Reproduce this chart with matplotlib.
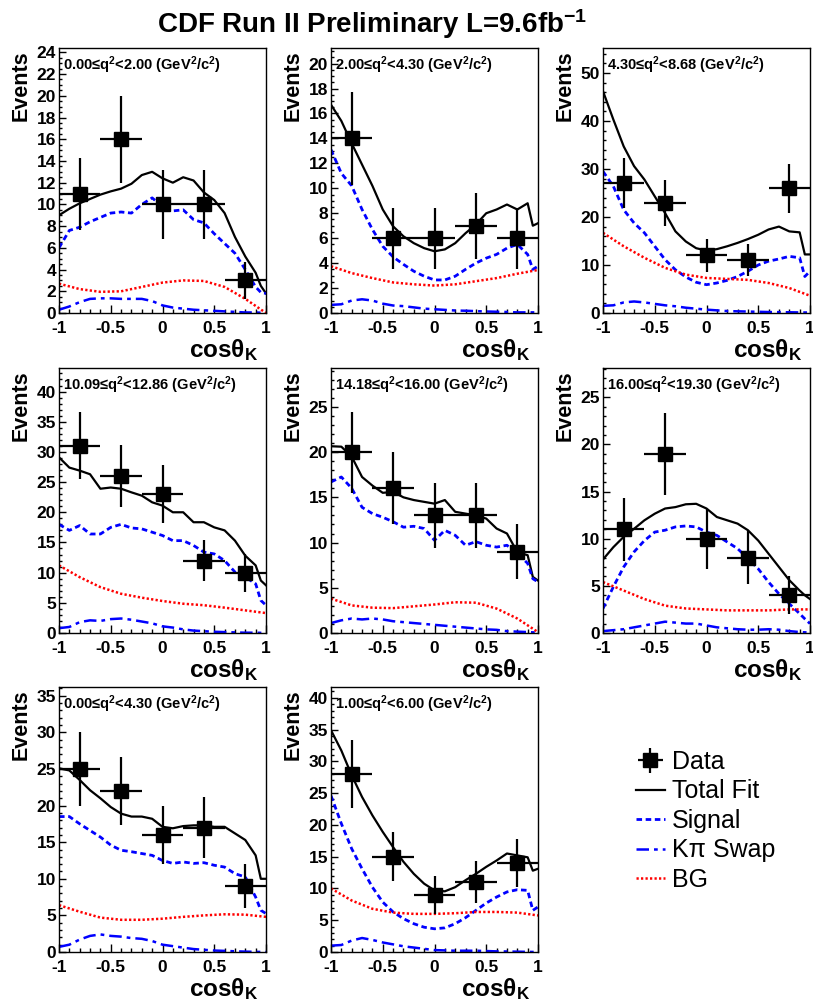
import numpy as np
import matplotlib
matplotlib.use("Agg")
import matplotlib.pyplot as plt
from matplotlib.ticker import MultipleLocator, AutoMinorLocator, FuncFormatter

plt.rcParams['font.family'] = ['Liberation Sans', 'DejaVu Sans']
plt.rcParams['mathtext.fontset'] = 'custom'
plt.rcParams['mathtext.rm'] = 'Liberation Sans'
plt.rcParams['mathtext.bf'] = 'Liberation Sans:bold'
plt.rcParams['mathtext.it'] = 'Liberation Sans:italic'
plt.rcParams['axes.unicode_minus'] = False

# data points (bin centres, half width 0.2)
x_data = [-0.8, -0.4, 0.0, 0.4, 0.8]
labels = ["0.00≤q$^{\\mathbf{2}}$<2.00 (GeV$^{\\mathbf{2}}$/c$^{\\mathbf{2}}$)",
          "2.00≤q$^{\\mathbf{2}}$<4.30 (GeV$^{\\mathbf{2}}$/c$^{\\mathbf{2}}$)",
          "4.30≤q$^{\\mathbf{2}}$<8.68 (GeV$^{\\mathbf{2}}$/c$^{\\mathbf{2}}$)",
          "10.09≤q$^{\\mathbf{2}}$<12.86 (GeV$^{\\mathbf{2}}$/c$^{\\mathbf{2}}$)",
          "14.18≤q$^{\\mathbf{2}}$<16.00 (GeV$^{\\mathbf{2}}$/c$^{\\mathbf{2}}$)",
          "16.00≤q$^{\\mathbf{2}}$<19.30 (GeV$^{\\mathbf{2}}$/c$^{\\mathbf{2}}$)",
          "0.00≤q$^{\\mathbf{2}}$<4.30 (GeV$^{\\mathbf{2}}$/c$^{\\mathbf{2}}$)",
          "1.00≤q$^{\\mathbf{2}}$<6.00 (GeV$^{\\mathbf{2}}$/c$^{\\mathbf{2}}$)"]

counts = [[11, 16, 10, 10, 3],
          [14, 6, 6, 7, 6],
          [27, 23, 12, 11, 26],
          [31, 26, 23, 12, 10],
          [20, 16, 13, 13, 9],
          [11, 19, 10, 8, 4],
          [25, 22, 16, 17, 9],
          [28, 15, 9, 11, 14]]

# fit curves
x_fit = [-1.0, -0.9, -0.8, -0.7, -0.6, -0.5, -0.4, -0.3, -0.2, -0.1, 0.0,
         0.1, 0.2, 0.3, 0.4, 0.5, 0.6, 0.7, 0.8, 0.9, 0.95, 1.0]
total = [[9.0, 9.6, 10.1, 10.5, 10.9, 11.2, 11.45, 11.9, 12.7, 13.0, 12.4, 12.0, 12.5, 12.2, 11.1, 10.4, 9.2, 7.0, 5.2, 3.7, 2.5, 1.8],
         [16.7, 15.4, 13.6, 11.9, 10.2, 8.3, 6.95, 6.15, 5.6, 5.2, 4.95, 5.1, 5.6, 6.4, 7.1, 8.0, 8.3, 8.7, 8.3, 8.8, 7.0, 7.2],
         [46.2, 40.3, 34.7, 30.6, 27.8, 24.3, 20.8, 17.0, 14.9, 13.5, 13.0, 13.3, 13.9, 14.6, 15.4, 16.3, 17.4, 18.0, 17.0, 16.8, 12.2, 12.2],
         [29.1, 27.4, 26.9, 26.3, 23.9, 24.1, 23.9, 23.3, 22.75, 21.65, 21.1, 20.0, 20.0, 18.35, 18.35, 17.5, 17.0, 15.3, 12.8, 11.2, 8.7, 7.9],
         [20.65, 20.6, 19.5, 17.25, 16.3, 15.5, 15.6, 15.0, 14.7, 14.5, 14.3, 14.7, 13.4, 13.2, 13.0, 12.65, 11.55, 11.0, 8.95, 8.6, 6.2, 5.8],
         [7.8, 9.1, 10.2, 11.05, 11.95, 12.65, 13.2, 13.35, 13.65, 13.7, 13.2, 12.3, 11.95, 11.6, 10.9, 9.8, 8.4, 7.0, 5.6, 4.5, 4.0, 3.6],
         [25.1, 24.8, 23.5, 22.1, 21.0, 19.8, 18.9, 18.5, 18.5, 18.2, 17.1, 16.9, 17.2, 17.3, 17.3, 17.1, 17.1, 16.2, 15.3, 13.2, 10.0, 10.0],
         [34.9, 31.7, 27.8, 24.4, 21.5, 18.9, 16.5, 14.2, 12.3, 10.75, 9.7, 9.55, 10.2, 11.3, 12.3, 13.4, 14.4, 15.5, 15.2, 14.9, 12.8, 13.1]]
signal = [[6.0, 7.6, 7.9, 8.4, 8.8, 9.2, 9.3, 9.2, 10.0, 10.6, 9.8, 9.4, 9.5, 8.6, 8.3, 7.3, 6.4, 5.5, 4.0, 2.4, 1.9, 1.8],
          [13.1, 11.2, 10.2, 8.3, 6.7, 5.35, 4.5, 3.9, 3.35, 2.95, 2.65, 2.65, 2.95, 3.5, 4.0, 4.4, 4.7, 5.2, 5.5, 4.7, 3.5, 3.75],
          [29.5, 26.4, 21.5, 18.75, 16.7, 13.9, 11.1, 9.0, 7.5, 6.4, 5.9, 6.25, 6.8, 7.6, 8.7, 10.0, 10.8, 11.25, 11.8, 11.5, 7.6, 8.7],
          [18.0, 17.0, 17.8, 16.4, 16.4, 17.5, 18.0, 17.4, 17.25, 16.7, 16.15, 15.3, 15.3, 14.5, 13.4, 13.1, 12.0, 10.1, 9.25, 8.15, 5.4, 4.6],
          [16.7, 17.25, 16.0, 13.9, 13.2, 12.8, 12.3, 11.7, 11.8, 11.55, 10.25, 11.35, 10.8, 9.7, 10.1, 9.7, 9.5, 9.7, 8.8, 7.7, 6.0, 5.65],
          [2.6, 4.9, 7.0, 8.6, 9.8, 10.7, 10.9, 11.25, 11.35, 11.25, 10.7, 10.35, 9.65, 8.95, 7.9, 6.8, 5.4, 4.15, 3.1, 2.05, 1.5, 1.0],
          [18.5, 18.5, 17.5, 16.6, 15.7, 14.6, 13.9, 13.7, 13.45, 13.2, 12.5, 12.1, 12.3, 12.1, 12.2, 11.85, 11.6, 10.7, 10.25, 7.5, 5.7, 5.25],
          [24.6, 20.2, 16.25, 13.1, 10.2, 7.85, 6.3, 5.25, 4.45, 3.9, 3.65, 3.8, 4.45, 5.4, 6.55, 7.7, 8.65, 9.45, 9.8, 9.7, 6.55, 7.1]]

x_swap = [-1.0, -0.9, -0.8, -0.7, -0.6, -0.5, -0.4, -0.3, -0.2, -0.1, 0.0,
          0.1, 0.2, 0.3, 0.4, 0.5, 0.6, 0.7, 0.8, 0.9, 1.0]
swap = [[0.3, 0.6, 1.0, 1.3, 1.35, 1.35, 1.3, 1.3, 1.3, 1.1, 0.7, 0.5, 0.4, 0.3, 0.25, 0.2, 0.15, 0.1, 0.05, 0.05, 0.0],
        [0.65, 0.7, 1.0, 1.1, 1.0, 0.75, 0.6, 0.55, 0.45, 0.35, 0.3, 0.25, 0.2, 0.18, 0.15, 0.12, 0.1, 0.08, 0.05, 0.05, 0.05],
        [1.5, 1.6, 2.2, 2.4, 2.2, 1.9, 1.6, 1.4, 1.1, 0.9, 0.7, 0.55, 0.4, 0.35, 0.3, 0.25, 0.2, 0.18, 0.15, 0.12, 0.1],
        [0.8, 1.0, 1.8, 2.1, 2.0, 2.3, 2.4, 2.2, 1.9, 1.6, 1.1, 0.9, 0.6, 0.4, 0.3, 0.2, 0.15, 0.1, 0.05, 0.05, 0.0],
        [1.1, 1.4, 1.6, 1.5, 1.6, 1.5, 1.3, 1.2, 1.1, 1.0, 0.9, 0.8, 0.7, 0.6, 0.5, 0.4, 0.35, 0.2, 0.15, 0.1, 0.05],
        [0.2, 0.3, 0.4, 0.6, 0.8, 1.0, 1.2, 1.1, 1.0, 1.0, 0.8, 0.6, 0.5, 0.4, 0.35, 0.35, 0.4, 0.35, 0.2, 0.1, 0.05],
        [0.7, 1.0, 1.7, 2.2, 2.4, 2.2, 2.1, 1.9, 1.8, 1.5, 1.0, 0.8, 0.6, 0.4, 0.3, 0.2, 0.15, 0.1, 0.05, 0.02, 0.0],
        [1.0, 1.1, 1.8, 2.2, 1.9, 1.5, 1.2, 0.9, 0.7, 0.5, 0.3, 0.25, 0.2, 0.2, 0.2, 0.15, 0.1, 0.08, 0.05, 0.02, 0.0]]

x_bg = [-1.0, -0.8, -0.6, -0.4, -0.2, 0.0, 0.2, 0.4, 0.6, 0.8, 1.0]
bg = [[2.7, 2.2, 1.95, 2.0, 2.4, 2.8, 3.0, 2.95, 2.4, 1.3, 0.0],
      [3.75, 3.2, 2.8, 2.45, 2.3, 2.2, 2.3, 2.55, 2.8, 3.15, 3.45],
      [16.7, 13.9, 11.5, 9.4, 8.0, 7.3, 7.1, 6.9, 6.25, 5.2, 3.6],
      [11.2, 9.25, 7.6, 6.5, 5.85, 5.3, 4.85, 4.6, 4.2, 3.75, 3.3],
      [3.8, 3.05, 2.8, 2.75, 2.95, 3.15, 3.4, 3.35, 2.7, 1.6, 0.1],
      [5.4, 4.5, 3.6, 2.9, 2.6, 2.5, 2.4, 2.4, 2.4, 2.5, 2.5],
      [6.4, 5.5, 4.7, 4.4, 4.4, 4.55, 4.8, 5.0, 5.15, 5.1, 4.8],
      [10.0, 8.1, 6.8, 6.2, 6.0, 6.0, 6.1, 6.3, 6.3, 6.2, 5.75]]

ymax = [24.4, 21.25, 55.2, 43.9, 29.3, 28.1, 36.2, 41.7]
ystep = [2, 2, 10, 5, 5, 5, 5, 5]

fig = plt.figure(figsize=(8.13, 10), dpi=100)
W, H = 813.0, 1000.0
lefts = [59, 331, 603]
bottoms = [313, 633, 952]
aw, ah = 207, 265

fmt = FuncFormatter(lambda v, p: "%g" % v)
handles = None
for i in range(8):
    r, c = divmod(i, 3)
    ax = fig.add_axes([lefts[c] / W, 1 - bottoms[r] / H, aw / W, ah / H])
    l_tot, = ax.plot(x_fit, total[i], color='k', lw=1.6)
    l_sig, = ax.plot(x_fit, signal[i], color='#0000ff', lw=2.0, ls=(0, (2.0, 1.3)))
    l_swp, = ax.plot(x_swap, swap[i], color='#0000ff', lw=1.8, ls=(0, (5, 2, 1.5, 2)))
    l_bg, = ax.plot(x_bg, bg[i], color='#ff0000', lw=1.8, ls=(0, (0.9, 0.9)))
    n = np.array(counts[i], dtype=float)
    eb = ax.errorbar(x_data, n, xerr=0.2, yerr=np.sqrt(n), fmt='s', color='k',
                     ms=10.5, elinewidth=1.6, capsize=0, zorder=5)
    if handles is None:
        handles = [eb, l_tot, l_sig, l_swp, l_bg]

    ax.set_xlim(-1, 1)
    ax.set_ylim(0, ymax[i])
    ax.xaxis.set_major_locator(MultipleLocator(0.5))
    ax.xaxis.set_minor_locator(MultipleLocator(0.1))
    ax.yaxis.set_major_locator(MultipleLocator(ystep[i]))
    ax.yaxis.set_minor_locator(AutoMinorLocator())
    ax.xaxis.set_major_formatter(fmt)
    ax.yaxis.set_major_formatter(fmt)
    ax.tick_params(which='both', direction='in', top=False, right=False,
                   labelsize=12.5, width=1)
    ax.tick_params(axis='x', which='major', length=6, pad=5.5)
    ax.tick_params(axis='x', which='minor', length=3)
    ax.tick_params(axis='y', which='major', length=5, pad=2)
    ax.tick_params(axis='y', which='minor', length=2.5)
    for lab in ax.get_xticklabels() + ax.get_yticklabels():
        lab.set_fontweight('bold')
    for sp in ax.spines.values():
        sp.set_linewidth(1.0)

    ax.text(0.02, 0.975, labels[i], transform=ax.transAxes, ha='left', va='top',
            fontsize=10.5, fontweight='bold')
    ax.text(0.96, -0.09, "cosθ$_{\\mathbf{K}}$", transform=ax.transAxes,
            ha='right', va='top', fontsize=17.5, fontweight='bold')
    fig.text((lefts[c] - 38) / W, 1 - (bottoms[r] - ah + 2) / H, "Events",
             rotation=90, ha='center', va='top', fontsize=15.5, fontweight='bold')

fig.text(372 / W, 1 - 33 / H, "CDF Run II Preliminary L=9.6fb$^{\\mathbf{-1}}$",
         ha='center', va='baseline', fontsize=20, fontweight='bold')

fig.legend(handles, ["Data", "Total Fit", "Signal", "Kπ Swap", "BG"],
           loc='upper left', bbox_to_anchor=(636 / W, 1 - 750 / H),
           frameon=False, fontsize=18, handlelength=1.15, handletextpad=0.3,
           labelspacing=0.22, borderpad=0, borderaxespad=0)

fig.savefig("out.png", dpi=100)
